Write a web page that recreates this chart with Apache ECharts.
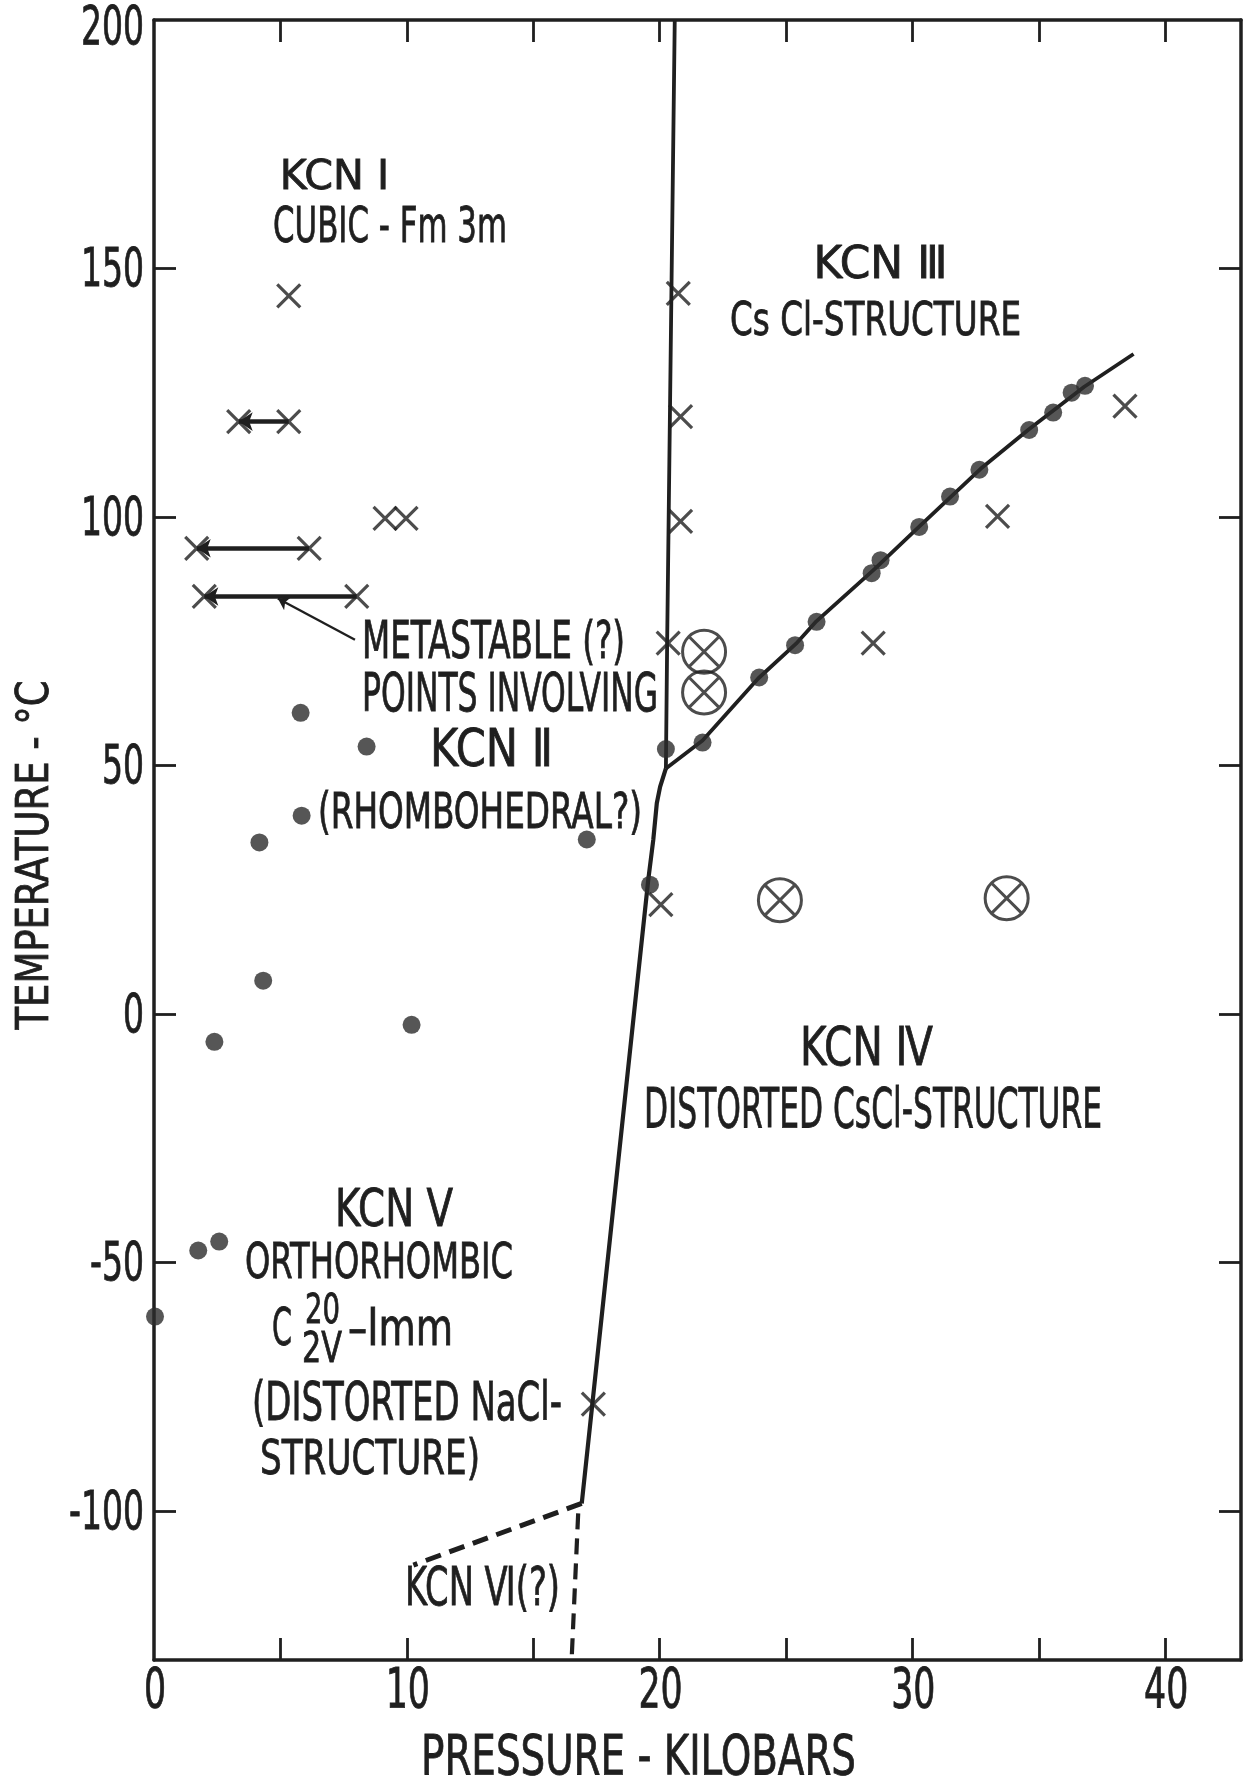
<!DOCTYPE html>
<html>
<head>
<meta charset="utf-8">
<script src="https://cdn.jsdelivr.net/npm/echarts@6/dist/echarts.min.js"></script>
<style>
  html, body { margin: 0; padding: 0; background: #ffffff; }
  #chart { width: 1250px; height: 1785px; }
</style>
</head>
<body>
<div id="chart"></div>
<script>
// Phase diagram of KCN: pressure (kilobars) against temperature (°C)

const pressureTicks = [5, 10, 15, 20, 25, 30, 35, 40];
const pressureLabels = [0, 10, 20, 30, 40];
const temperatureTicks = [-100, -50, 0, 50, 100, 150];
const temperatureLabels = [-100, -50, 0, 50, 100, 150, 200];

// filled circles [pressure, temperature]
const filledPoints = [
  [5.80, 60.6], [8.41, 53.8], [5.84, 39.9], [4.17, 34.5], [17.12, 35.1],
  [4.32, 6.7], [10.19, -2.2], [2.39, -5.6], [19.62, 26.0],
  [1.75, -47.6], [2.58, -45.8], [0.04, -60.9],
  [20.25, 53.3], [21.70, 54.6], [23.94, 67.7], [25.36, 74.2], [26.21, 78.9],
  [28.39, 88.7], [28.74, 91.3], [30.27, 98.0], [31.49, 104.1], [32.65, 109.5],
  [34.62, 117.5], [35.57, 121.0], [36.30, 125.0], [36.83, 126.4]
];

// crosses [pressure, temperature]
const crossPoints = [
  [5.33, 144.5], [3.35, 119.2], [5.33, 119.2], [9.14, 99.7], [9.97, 99.7],
  [1.69, 93.7], [6.14, 93.7], [1.99, 84.0], [8.02, 84.0],
  [20.74, 145.0], [20.83, 120.2], [20.83, 99.1], [20.34, 74.6], [20.05, 22.0],
  [28.45, 74.6], [33.37, 100.1], [38.41, 122.3], [17.38, -78.5]
];

// circled crosses [pressure, temperature]
const circledCrossPoints = [
  [21.76, 72.9], [21.76, 64.7], [24.76, 22.9], [33.73, 23.3]
];

// metastable shifts: from point -> to point
const metastableShifts = [
  [[5.33, 119.2], [3.35, 119.2]],
  [[6.14, 93.7], [1.69, 93.7]],
  [[8.02, 84.0], [1.99, 84.0]]
];

// phase boundaries
const boundaryI_III = [[20.6, 200], [20.3, 75], [20.25, 49.4]];
const boundaryIII_IV = [
  [20.25, 49.4], [21.7, 55.0], [23.9, 67.5], [25.4, 74.5], [26.2, 79.0],
  [28.5, 89.5], [30.3, 98.2], [32.7, 109.7], [34.6, 117.6], [36.8, 126.2], [38.75, 132.8]
];
const boundaryLow = [
  [20.25, 49.4], [20.02, 45.7], [19.89, 42.4], [19.75, 35.0], [19.55, 26.9], [16.92, -98.5]
];
const boundaryVI_V = [[16.92, -98.5], [10.26, -110.9]];
const boundaryVI_IV = [[16.78, -100.5], [16.52, -130]];

// leader from the "METASTABLE" note to the 84 °C shift
const metastablePointer = [[7.95, 75.3], [4.9, 83.6]];

const INK = '#1f1f1f';
const FONT = "'Liberation Sans Narrow','DejaVu Sans Condensed','Liberation Sans',sans-serif";

const CROSS = 'path://M0,0L10,10M10,0L0,10';
const CIRCLED_CROSS = 'path://M20,10A10,10,0,1,1,0,10A10,10,0,1,1,20,10ZM2.93,2.93L17.07,17.07M17.07,2.93L2.93,17.07';

function frameAxis(position, ticks, extra) {
  return Object.assign({
    type: 'value',
    position: position,
    axisLine: { show: true, onZero: false, lineStyle: { color: INK, width: 3.5 } },
    axisTick: { show: true, inside: true, length: 22, customValues: ticks,
                lineStyle: { color: INK, width: 2.8 } },
    axisLabel: { show: false },
    splitLine: { show: false }
  }, extra);
}

const lineSeries = (data, width, dashed) => ({
  type: 'line', data: data, symbol: 'none', silent: true, z: 2,
  lineStyle: { color: INK, width: width, type: dashed ? [16, 9] : 'solid', cap: 'butt' }
});

const option = {
  animation: false,
  backgroundColor: '#ffffff',
  grid: { left: 154, right: 9, top: 20, bottom: 125 },
  xAxis: [
    frameAxis('bottom', pressureTicks, { min: 0, max: 43 }),
    frameAxis('top', pressureTicks, { min: 0, max: 43 })
  ],
  yAxis: [
    frameAxis('left', temperatureTicks, { min: -130, max: 200 }),
    frameAxis('right', temperatureTicks, { min: -130, max: 200 })
  ],
  series: [
    lineSeries(boundaryI_III, 3.8, false),
    lineSeries(boundaryIII_IV, 3.8, false),
    lineSeries(boundaryLow, 4.2, false),
    lineSeries(boundaryVI_V, 5, true),
    lineSeries(boundaryVI_IV, 4.2, true),
    {
      type: 'lines', coordinateSystem: 'cartesian2d', silent: true, z: 3,
      data: metastableShifts.map(c => ({ coords: c })),
      symbol: ['none', 'arrow'], symbolSize: 14,
      lineStyle: { color: INK, width: 4.5, opacity: 1 }
    },
    {
      type: 'lines', coordinateSystem: 'cartesian2d', silent: true, z: 3,
      data: [{ coords: metastablePointer }],
      symbol: ['none', 'arrow'], symbolSize: 11,
      lineStyle: { color: INK, width: 2.4, opacity: 1 }
    },
    {
      type: 'scatter', data: filledPoints, symbol: 'circle', symbolSize: 18,
      silent: true, z: 4, itemStyle: { color: '#2c2c2c' }
    },
    {
      type: 'scatter', data: crossPoints, symbol: CROSS, symbolSize: 23,
      silent: true, z: 4,
      itemStyle: { color: 'none', borderColor: INK, borderWidth: 3.2 }
    },
    {
      type: 'scatter', data: circledCrossPoints, symbol: CIRCLED_CROSS, symbolSize: 43,
      silent: true, z: 4,
      itemStyle: { color: 'none', borderColor: INK, borderWidth: 3 }
    }
  ]
};

const chart = echarts.init(document.getElementById('chart'), null, { renderer: 'canvas' });
chart.setOption(option);

// region names and axis titles: [text, left, centre y, cap height, span width]
const textLayout = [
  ['KCN Ⅰ', 273, 178, 30, 123],
  ['CUBIC - Fm 3m', 273, 229, 36, 234],
  ['KCN Ⅲ', 806, 266, 32, 149],
  ['Cs Cl-STRUCTURE', 730, 323, 33, 291],
  ['METASTABLE (?)', 362, 645, 37, 263],
  ['POINTS INVOLVING', 362, 697, 39, 296],
  ['KCN Ⅱ', 430, 753, 37, 123],
  ['(RHOMBOHEDRAL?)', 318, 815, 36, 324],
  ['KCN Ⅳ', 800, 1051, 38, 133],
  ['DISTORTED CsCl-STRUCTURE', 644, 1113, 40, 458],
  ['KCN Ⅴ', 335, 1213, 37, 118],
  ['ORTHORHOMBIC', 245, 1265, 36, 268],
  ['C', 272, 1332, 37, 20],
  ['20', 305, 1312, 30, 35],
  ['2V', 302, 1351, 31, 40],
  ['–Imm', 348, 1332, 37, 105],
  ['(DISTORTED NaCl-', 252, 1406, 38, 310],
  ['STRUCTURE)', 260, 1461, 35, 220],
  ['KCN Ⅵ(?)', 405, 1591, 38, 155],
  ['PRESSURE - KILOBARS', 421, 1760, 40, 435]
];
const verticalTitle = ['TEMPERATURE - °C', 36, 855, 32, 349];

const measure = document.createElement('canvas').getContext('2d');
const fontFor = cap => (cap / 0.72).toFixed(1) + 'px ' + FONT;
const textStyle = (text, font, align) => ({
  text: text, font: font, fill: INK, stroke: INK, lineWidth: 0.8,
  align: align, verticalAlign: 'middle'
});

function textElement(spec, vertical) {
  const [text, a, b, cap, span] = spec;
  const font = fontFor(cap);
  measure.font = font;
  const natural = measure.measureText(text).width;
  const sx = Math.min(span / natural, 1.1);
  return {
    type: 'text', silent: true, z: 10,
    x: vertical ? a : a + span / 2,
    y: b,
    rotation: vertical ? Math.PI / 2 : 0,
    scaleX: sx,
    style: textStyle(text, font, 'center')
  };
}

const elements = textLayout.map(s => textElement(s, false));
elements.push(textElement(verticalTitle, true));

// tick labels placed through the axis scales, drawn in condensed lettering
const tickFont = fontFor(38);
measure.font = tickFont;
const digitScale = 63 / measure.measureText('200').width;
const grid = option.grid;
temperatureLabels.forEach(v => {
  const py = chart.convertToPixel({ yAxisIndex: 0 }, v);
  elements.push({
    type: 'text', silent: true, z: 10,
    x: grid.left - 10, y: py + (v === 200 ? 10 : 4), scaleX: digitScale,
    style: textStyle(String(v), tickFont, 'right')
  });
});
const xLabelFont = fontFor(40);
pressureLabels.forEach(v => {
  const px = chart.convertToPixel({ xAxisIndex: 0 }, v);
  elements.push({
    type: 'text', silent: true, z: 10,
    x: px + 1, y: 1693, scaleX: digitScale,
    style: textStyle(String(v), xLabelFont, 'center')
  });
});

chart.setOption({ graphic: { elements: elements } });
</script>
</body>
</html>
